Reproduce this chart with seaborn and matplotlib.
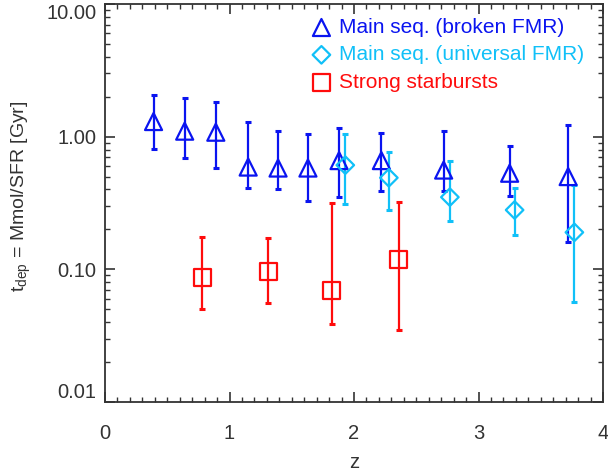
import numpy as np
import pandas as pd
import matplotlib
matplotlib.use("Agg")
import matplotlib.pyplot as plt
import seaborn as sns
from matplotlib.ticker import FormatStrFormatter, MultipleLocator, LogLocator, NullFormatter

# --- DATA ---
z_broken = [0.39, 0.64, 0.89, 1.15, 1.39, 1.63, 1.88, 2.22, 2.72, 3.25, 3.72]
t_broken = [1.30, 1.10, 1.08, 0.59, 0.58, 0.58, 0.66, 0.66, 0.56, 0.53, 0.50]
lo_broken = [0.81, 0.69, 0.58, 0.41, 0.40, 0.33, 0.35, 0.39, 0.39, 0.36, 0.16]
hi_broken = [2.05, 1.96, 1.84, 1.28, 1.10, 1.04, 1.16, 1.07, 1.11, 0.845, 1.23]

z_univ = [1.93, 2.28, 2.77, 3.29, 3.77]
t_univ = [0.61, 0.49, 0.35, 0.28, 0.19]
lo_univ = [0.31, 0.28, 0.23, 0.18, 0.057]
hi_univ = [1.05, 0.77, 0.66, 0.41, 0.43]

z_sb = [0.78, 1.31, 1.82, 2.36]
t_sb = [0.087, 0.096, 0.069, 0.118]
lo_sb = [0.050, 0.056, 0.039, 0.035]
hi_sb = [0.174, 0.171, 0.316, 0.32]

labels = ["Main seq. (broken FMR)", "Main seq. (universal FMR)", "Strong starbursts"]
colors = ["#0a14f0", "#10c0f8", "#ff0c0c"]
markers = ["^", "D", "s"]
sizes = [150, 80, 150]

series = [
    (z_broken, t_broken, lo_broken, hi_broken),
    (z_univ, t_univ, lo_univ, hi_univ),
    (z_sb, t_sb, lo_sb, hi_sb),
]

# --- STYLE ---
sns.set_theme(style="ticks")
plt.rcParams["font.family"] = ["Liberation Sans", "DejaVu Sans"]
plt.rcParams["mathtext.fontset"] = "custom"
plt.rcParams["mathtext.rm"] = "Liberation Sans"

fig = plt.figure(figsize=(6.08, 4.75), dpi=100)
ax = fig.add_axes([0.1727, 0.1537, 0.8191, 0.8379])

# --- PLOT ---
for (z, t, lo, hi), lab, c, m, s in zip(series, labels, colors, markers, sizes):
    df = pd.DataFrame({"z": z, "t": t, "lo": lo, "hi": hi})
    yerr = [df["t"] - df["lo"], df["hi"] - df["t"]]
    ax.errorbar(df["z"], df["t"], yerr=yerr, fmt="none", ecolor=c,
                elinewidth=1.6, capsize=2, capthick=2.2, zorder=2)
    sns.scatterplot(data=df, x="z", y="t", marker=m, s=s, facecolor="none",
                    edgecolor=c, linewidth=1.6, label=lab, ax=ax, zorder=3)

ax.set_yscale("log")
ax.set_xlim(0, 4)
ax.set_ylim(0.01, 10)
ax.xaxis.set_major_locator(MultipleLocator(1))
ax.xaxis.set_minor_locator(MultipleLocator(0.1))
ax.yaxis.set_major_locator(LogLocator(base=10))
ax.yaxis.set_minor_locator(LogLocator(base=10, subs=np.arange(2, 10)))
ax.yaxis.set_major_formatter(FormatStrFormatter("%.2f"))
ax.yaxis.set_minor_formatter(NullFormatter())

ax.tick_params(which="both", direction="in", top=True, right=True,
               colors="#333333", labelsize=14.5)
ax.tick_params(which="major", length=7, width=1.2)
ax.tick_params(which="minor", length=3.5, width=1.0)
ax.tick_params(axis="x", pad=16)
ax.tick_params(axis="y", pad=6)
for sp in ax.spines.values():
    sp.set_color("#333333")
    sp.set_linewidth(1.3)

ax.set_xlabel("z", fontsize=14.5, color="#333333", labelpad=7)
ax.set_ylabel(r"t$_{\rm dep}$ = Mmol/SFR [Gyr]", fontsize=14, color="#333333")
ax.yaxis.set_label_coords(-0.145, 0.518)

leg = ax.legend(loc="upper right", bbox_to_anchor=(1.0, 1.012), frameon=False,
                fontsize=15, handletextpad=0.25, borderaxespad=0.7,
                labelspacing=0.4, handlelength=1.2, borderpad=0.2)
for txt, c in zip(leg.get_texts(), colors):
    txt.set_color(c)

# keep the end labels inside the figure, like the reference
fig.canvas.draw()
for tick in ax.yaxis.get_major_ticks():
    if np.isclose(tick.get_loc(), 10):
        tick.label1.set_va("top")
    elif np.isclose(tick.get_loc(), 0.01):
        tick.label1.set_va("bottom")

fig.savefig("out.png", dpi=100)
